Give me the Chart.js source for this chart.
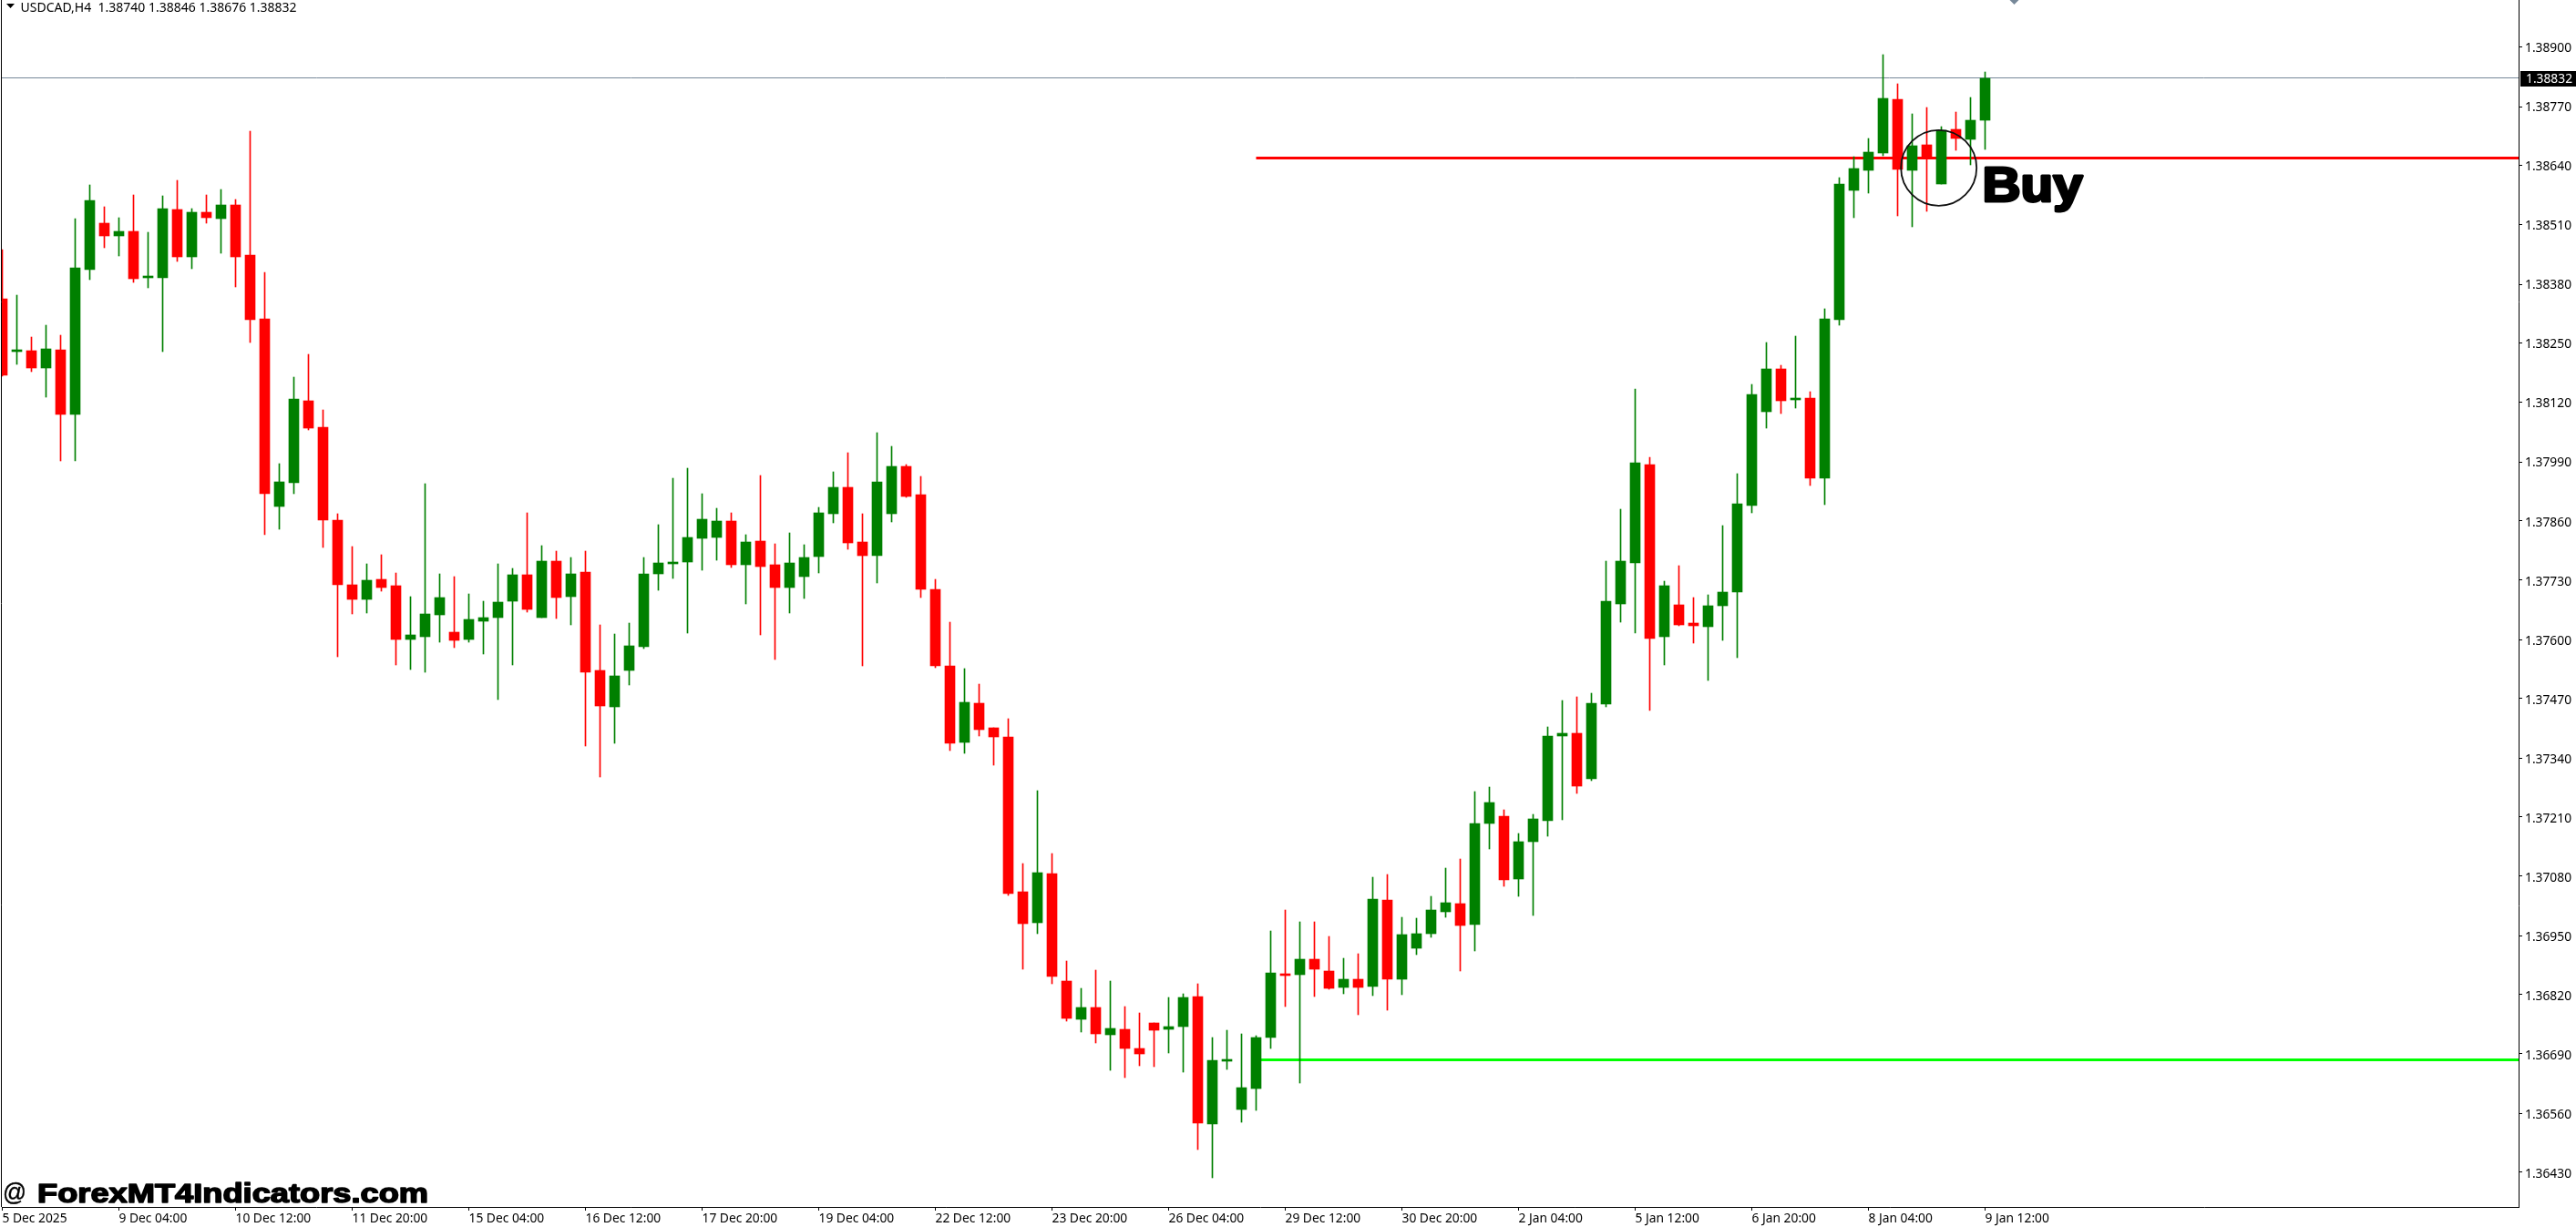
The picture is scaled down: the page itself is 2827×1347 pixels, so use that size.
<!DOCTYPE html>
<html>
<head>
<meta charset="utf-8">
<title>USDCAD,H4</title>
<script src="https://cdn.jsdelivr.net/npm/chart.js@4/dist/chart.umd.js"></script>
<style>
html, body { margin: 0; padding: 0; background: #fff; }
canvas { display: block; }
</style>
</head>
<body>
<canvas id="chart" width="2827" height="1347"></canvas>
<script>
// candle values
const opens = [
  1.38348,1.38232,1.38234,1.38196,1.38236,1.38094,1.38412,1.38514,1.38486,1.38496,
  1.38394,1.38394,1.38544,1.38440,1.38538,1.38524,1.38554,1.38444,1.38304,1.37892,
  1.37944,1.38124,1.38066,1.37862,1.37720,1.37688,1.37732,1.37718,1.37600,1.37606,
  1.37654,1.37616,1.37600,1.37640,1.37648,1.37684,1.37742,1.37648,1.37772,1.37694,
  1.37748,1.37532,1.37452,1.37532,1.37584,1.37744,1.37766,1.37770,1.37822,1.37824,
  1.37860,1.37764,1.37816,1.37764,1.37714,1.37738,1.37782,1.37876,1.37934,1.37814,
  1.37784,1.37876,1.37980,1.37918,1.37710,1.37542,1.37374,1.37460,1.37406,1.37386,
  1.37046,1.36978,1.37086,1.36850,1.36766,1.36792,1.36732,1.36744,1.36702,1.36758,
  1.36744,1.36750,1.36816,1.36536,1.36674,1.36568,1.36614,1.36726,1.36866,1.36864,
  1.36898,1.36872,1.36836,1.36854,1.36838,1.37028,1.36854,1.36922,1.36954,1.37002,
  1.37020,1.36974,1.37196,1.37212,1.37074,1.37156,1.37202,1.37388,1.37394,1.37294,
  1.37458,1.37678,1.37768,1.37984,1.37606,1.37676,1.37636,1.37628,1.37674,1.37704,
  1.37894,1.38100,1.38194,1.38126,1.38130,1.37954,1.38302,1.38586,1.38630,1.38668,
  1.38786,1.38630,1.38686,1.38600,1.38720,1.38698,1.38740
];
const highs = [
  1.38456,1.38356,1.38264,1.38290,1.38268,1.38524,1.38598,1.38550,1.38526,1.38576,
  1.38494,1.38574,1.38608,1.38546,1.38576,1.38588,1.38566,1.38716,1.38406,1.37986,
  1.38176,1.38226,1.38104,1.37876,1.37804,1.37766,1.37786,1.37746,1.37694,1.37942,
  1.37744,1.37738,1.37700,1.37684,1.37766,1.37756,1.37878,1.37806,1.37794,1.37780,
  1.37794,1.37632,1.37612,1.37636,1.37780,1.37852,1.37954,1.37976,1.37920,1.37888,
  1.37878,1.37830,1.37960,1.37810,1.37834,1.37808,1.37890,1.37968,1.38010,1.37876,
  1.38054,1.38024,1.37984,1.37958,1.37732,1.37638,1.37536,1.37502,1.37406,1.37426,
  1.37108,1.37268,1.37130,1.36894,1.36834,1.36874,1.36850,1.36794,1.36780,1.36758,
  1.36814,1.36822,1.36844,1.36726,1.36742,1.36734,1.36730,1.36960,1.37006,1.36980,
  1.36980,1.36948,1.36900,1.36910,1.37078,1.37084,1.36990,1.36988,1.37036,1.37098,
  1.37118,1.37266,1.37276,1.37226,1.37174,1.37216,1.37408,1.37466,1.37474,1.37482,
  1.37772,1.37886,1.38150,1.38000,1.37728,1.37762,1.37692,1.37698,1.37850,1.37964,
  1.38160,1.38252,1.38202,1.38266,1.38144,1.38326,1.38614,1.38660,1.38700,1.38884,
  1.38820,1.38754,1.38768,1.38726,1.38758,1.38790,1.38846
];
const lows = [
  1.38178,1.38204,1.38188,1.38132,1.37992,1.37992,1.38390,1.38460,1.38442,1.38384,
  1.38372,1.38232,1.38430,1.38414,1.38514,1.38448,1.38374,1.38252,1.37830,1.37842,
  1.37920,1.38060,1.37802,1.37562,1.37656,1.37658,1.37706,1.37544,1.37534,1.37528,
  1.37594,1.37582,1.37594,1.37568,1.37468,1.37544,1.37660,1.37648,1.37646,1.37632,
  1.37366,1.37298,1.37372,1.37500,1.37580,1.37708,1.37734,1.37614,1.37752,1.37774,
  1.37758,1.37678,1.37610,1.37556,1.37658,1.37690,1.37746,1.37856,1.37798,1.37542,
  1.37724,1.37858,1.37912,1.37692,1.37538,1.37356,1.37350,1.37388,1.37324,1.37038,
  1.36876,1.36954,1.36844,1.36762,1.36738,1.36714,1.36654,1.36638,1.36664,1.36662,
  1.36692,1.36650,1.36480,1.36418,1.36656,1.36540,1.36566,1.36702,1.36794,1.36626,
  1.36816,1.36832,1.36822,1.36776,1.36818,1.36786,1.36820,1.36908,1.36946,1.36990,
  1.36872,1.36916,1.37140,1.37058,1.37036,1.36994,1.37168,1.37204,1.37262,1.37290,
  1.37452,1.37638,1.37614,1.37444,1.37544,1.37630,1.37592,1.37510,1.37598,1.37560,
  1.37878,1.38064,1.38096,1.38108,1.37938,1.37896,1.38290,1.38526,1.38580,1.38662,
  1.38530,1.38506,1.38540,1.38600,1.38674,1.38642,1.38676
];
const closes = [
  1.38180,1.38236,1.38196,1.38238,1.38094,1.38416,1.38564,1.38486,1.38496,1.38392,
  1.38398,1.38546,1.38440,1.38538,1.38526,1.38554,1.38440,1.38302,1.37920,1.37946,
  1.38128,1.38064,1.37862,1.37720,1.37688,1.37730,1.37714,1.37600,1.37610,1.37656,
  1.37692,1.37598,1.37644,1.37648,1.37682,1.37742,1.37666,1.37772,1.37692,1.37744,
  1.37528,1.37454,1.37520,1.37586,1.37744,1.37768,1.37770,1.37824,1.37864,1.37860,
  1.37764,1.37814,1.37760,1.37714,1.37768,1.37780,1.37878,1.37934,1.37812,1.37784,
  1.37946,1.37980,1.37914,1.37710,1.37542,1.37372,1.37462,1.37402,1.37386,1.37042,
  1.36976,1.37088,1.36860,1.36768,1.36792,1.36734,1.36746,1.36702,1.36690,1.36742,
  1.36750,1.36814,1.36538,1.36676,1.36678,1.36616,1.36726,1.36868,1.36862,1.36898,
  1.36876,1.36834,1.36854,1.36836,1.37030,1.36854,1.36952,1.36954,1.37006,1.37022,
  1.36972,1.37196,1.37242,1.37072,1.37156,1.37206,1.37388,1.37394,1.37278,1.37460,
  1.37684,1.37772,1.37988,1.37602,1.37718,1.37632,1.37630,1.37674,1.37704,1.37898,
  1.38138,1.38194,1.38124,1.38130,1.37954,1.38304,1.38600,1.38634,1.38670,1.38788,
  1.38632,1.38684,1.38656,1.38718,1.38700,1.38740,1.38832
];

// axes
const yTicks = [1.38900,1.38770,1.38640,1.38510,1.38380,1.38250,1.38120,1.37990,1.37860,1.37730,
                1.37600,1.37470,1.37340,1.37210,1.37080,1.36950,1.36820,1.36690,1.36560,1.36430];
const xTicks = [0,8,16,24,32,40,48,56,64,72,80,88,96,104,112,120,128,136];
const xLabels = ["5 Dec 2025","9 Dec 04:00","10 Dec 12:00","11 Dec 20:00","15 Dec 04:00","16 Dec 12:00",
                 "17 Dec 20:00","19 Dec 04:00","22 Dec 12:00","23 Dec 20:00","26 Dec 04:00","29 Dec 12:00",
                 "30 Dec 20:00","2 Jan 04:00","5 Jan 12:00","6 Jan 20:00","8 Jan 04:00","9 Jan 12:00"];

// levels and annotations
const bidPrice = 1.38832;
const redLevel = 1.38657;
const greenLevel = 1.36677;
const levelStart = 86;
const circleIndex = 132.825;
const circlePrice = 1.386354;
const shiftMarkerIndex = 138;
const headerText = "USDCAD,H4  1.38740 1.38846 1.38676 1.38832";

const xMin = -0.03125;
const xMax = 172.59375;
const yMax = 1.39004;
const yMin = 1.36354;

const BULL = "#008000";
const BEAR = "#ff0000";
const TEXT_FONT = '"Noto Sans"';

let candleColors = opens.map(function (o, i) {
    return closes[i] >= o ? BULL : BEAR;
});
let bodies = opens.map(function (o, i) {
    return {x: i, y: [o, closes[i]]};
});
let wicks = lows.map(function (l, i) {
    return {x: i, y: [l, highs[i]]};
});

// heavy text, stretched sideways because no Arial Black here
function wideText(ctx, text, x, y, stretch, weight) {
    ctx.save();
    ctx.translate(x, y);
    ctx.scale(stretch, 1);
    ctx.lineJoin = "round";
    if (weight > 0) {
        ctx.lineWidth = weight;
        ctx.strokeText(text, 0, 0);
    }
    ctx.fillText(text, 0, 0);
    ctx.restore();
}

// bid line goes behind the candles
const behindPlugin = {
    id: "behind",
    beforeDraw(chart) {
        // price labels sit a bit below their tick, a bit more towards the bottom
        chart.scales.y.getLabelItems().forEach(function (item, i) {
            let t = item.options.translation;
            item.options.translation = [t[0], t[1] + 1 + 1.5 * i / (yTicks.length - 1)];
        });
    },
    beforeDatasetsDraw(chart) {
        let ctx = chart.ctx;
        let area = chart.chartArea;
        let y = Math.floor(chart.scales.y.getPixelForValue(bidPrice)) + 0.5;
        ctx.save();
        ctx.strokeStyle = "#778899";
        ctx.lineWidth = 1;
        ctx.beginPath();
        ctx.moveTo(area.left, y);
        ctx.lineTo(area.right, y);
        ctx.stroke();
        ctx.restore();
    }
};

// header, circle, texts, price tag
const overlayPlugin = {
    id: "overlay",
    afterDraw(chart) {
        let ctx = chart.ctx;
        let area = chart.chartArea;
        let sx = chart.scales.x;
        let sy = chart.scales.y;
        ctx.save();

        // left frame line
        ctx.strokeStyle = "#000";
        ctx.lineWidth = 1;
        ctx.beginPath();
        ctx.moveTo(1.5, 0);
        ctx.lineTo(1.5, area.bottom);
        ctx.stroke();

        // symbol line
        ctx.fillStyle = "#000";
        ctx.beginPath();
        ctx.moveTo(7, 4);
        ctx.lineTo(16, 4);
        ctx.lineTo(11.5, 9);
        ctx.closePath();
        ctx.fill();
        ctx.font = "14px " + TEXT_FONT;
        ctx.textBaseline = "alphabetic";
        ctx.textAlign = "left";
        ctx.fillText(headerText, 22.5, 13);

        // chart shift marker
        let mx = sx.getPixelForValue(shiftMarkerIndex);
        ctx.fillStyle = "#778899";
        ctx.beginPath();
        ctx.moveTo(mx - 5, 0);
        ctx.lineTo(mx + 5, 0);
        ctx.lineTo(mx, 5);
        ctx.closePath();
        ctx.fill();

        // circle around the signal
        ctx.strokeStyle = "#111";
        ctx.lineWidth = 1.8;
        ctx.beginPath();
        ctx.arc(sx.getPixelForValue(circleIndex), sy.getPixelForValue(circlePrice), 41.5, 0, Math.PI * 2);
        ctx.stroke();

        // Buy
        ctx.fillStyle = "#000";
        ctx.strokeStyle = "#000";
        ctx.font = 'bold 53px "Liberation Sans"';
        wideText(ctx, "Buy", 2175.5, 221.2, 1.1, 3);

        // watermark
        ctx.font = '27px "Liberation Sans"';
        wideText(ctx, "@", 3, 1318, 0.95, 0.4);
        ctx.font = 'bold 29px "Liberation Sans"';
        wideText(ctx, "ForexMT4Indicators.com", 41, 1319.5, 1.25, 1.5);

        // current price tag
        ctx.fillStyle = "#000";
        ctx.fillRect(2766, 78, 61, 17);
        ctx.fillStyle = "#fff";
        ctx.font = "13.8px " + TEXT_FONT;
        ctx.textBaseline = "middle";
        ctx.fillText(bidPrice.toFixed(5), 2772, 87.5);
        ctx.restore();
    }
};

new Chart(document.getElementById("chart"), {
    type: "bar",
    data: {
        datasets: [
            {
                type: "bar",
                data: bodies,
                backgroundColor: candleColors,
                borderWidth: 0,
                barThickness: 11,
                grouped: false,
                order: 1
            },
            {
                type: "bar",
                data: wicks,
                backgroundColor: candleColors,
                borderWidth: 0,
                barThickness: 1,
                grouped: false,
                order: 2
            },
            {
                type: "line",
                data: [{x: levelStart, y: redLevel}, {x: xMax, y: redLevel}],
                borderColor: "#ff0000",
                borderWidth: 3,
                pointRadius: 0,
                order: 3
            },
            {
                type: "line",
                data: [{x: levelStart, y: greenLevel}, {x: xMax, y: greenLevel}],
                borderColor: "#00ff00",
                borderWidth: 3,
                pointRadius: 0,
                order: 3
            }
        ]
    },
    options: {
        responsive: false,
        animation: false,
        devicePixelRatio: 1,
        layout: {padding: {left: 2, top: 0, right: 0, bottom: 0}},
        plugins: {
            legend: {display: false},
            tooltip: {enabled: false}
        },
        scales: {
            x: {
                type: "linear",
                min: xMin,
                max: xMax,
                offset: false,
                grid: {offset: false, drawOnChartArea: false, color: "#000", tickColor: "#000", tickLength: 4},
                border: {color: "#000", width: 1},
                afterBuildTicks: function (scale) {
                    scale.ticks = xTicks.map(function (v) { return {value: v}; });
                },
                afterFit: function (scale) {
                    scale.height = 22;
                    scale.paddingLeft = 0;
                    scale.paddingRight = 0;
                },
                ticks: {
                    align: "start",
                    autoSkip: false,
                    maxRotation: 0,
                    minRotation: 0,
                    padding: 1,
                    color: "#000",
                    font: {family: TEXT_FONT, size: 13.8},
                    callback: function (value, index) {
                        return xLabels[index];
                    }
                }
            },
            y: {
                type: "linear",
                position: "right",
                min: yMin,
                max: yMax,
                beginAtZero: false,
                grid: {drawOnChartArea: false, color: "#000", tickColor: "#000", tickLength: 4},
                border: {color: "#000", width: 1},
                afterBuildTicks: function (scale) {
                    scale.ticks = yTicks.map(function (v) { return {value: v}; });
                },
                afterFit: function (scale) {
                    scale.width = 63;
                    scale.paddingTop = 0;
                    scale.paddingBottom = 0;
                },
                ticks: {
                    autoSkip: false,
                    padding: 3,
                    color: "#000",
                    font: {family: TEXT_FONT, size: 13.8},
                    callback: function (value) {
                        return value.toFixed(5);
                    }
                }
            }
        }
    },
    plugins: [behindPlugin, overlayPlugin]
});
</script>
</body>
</html>
